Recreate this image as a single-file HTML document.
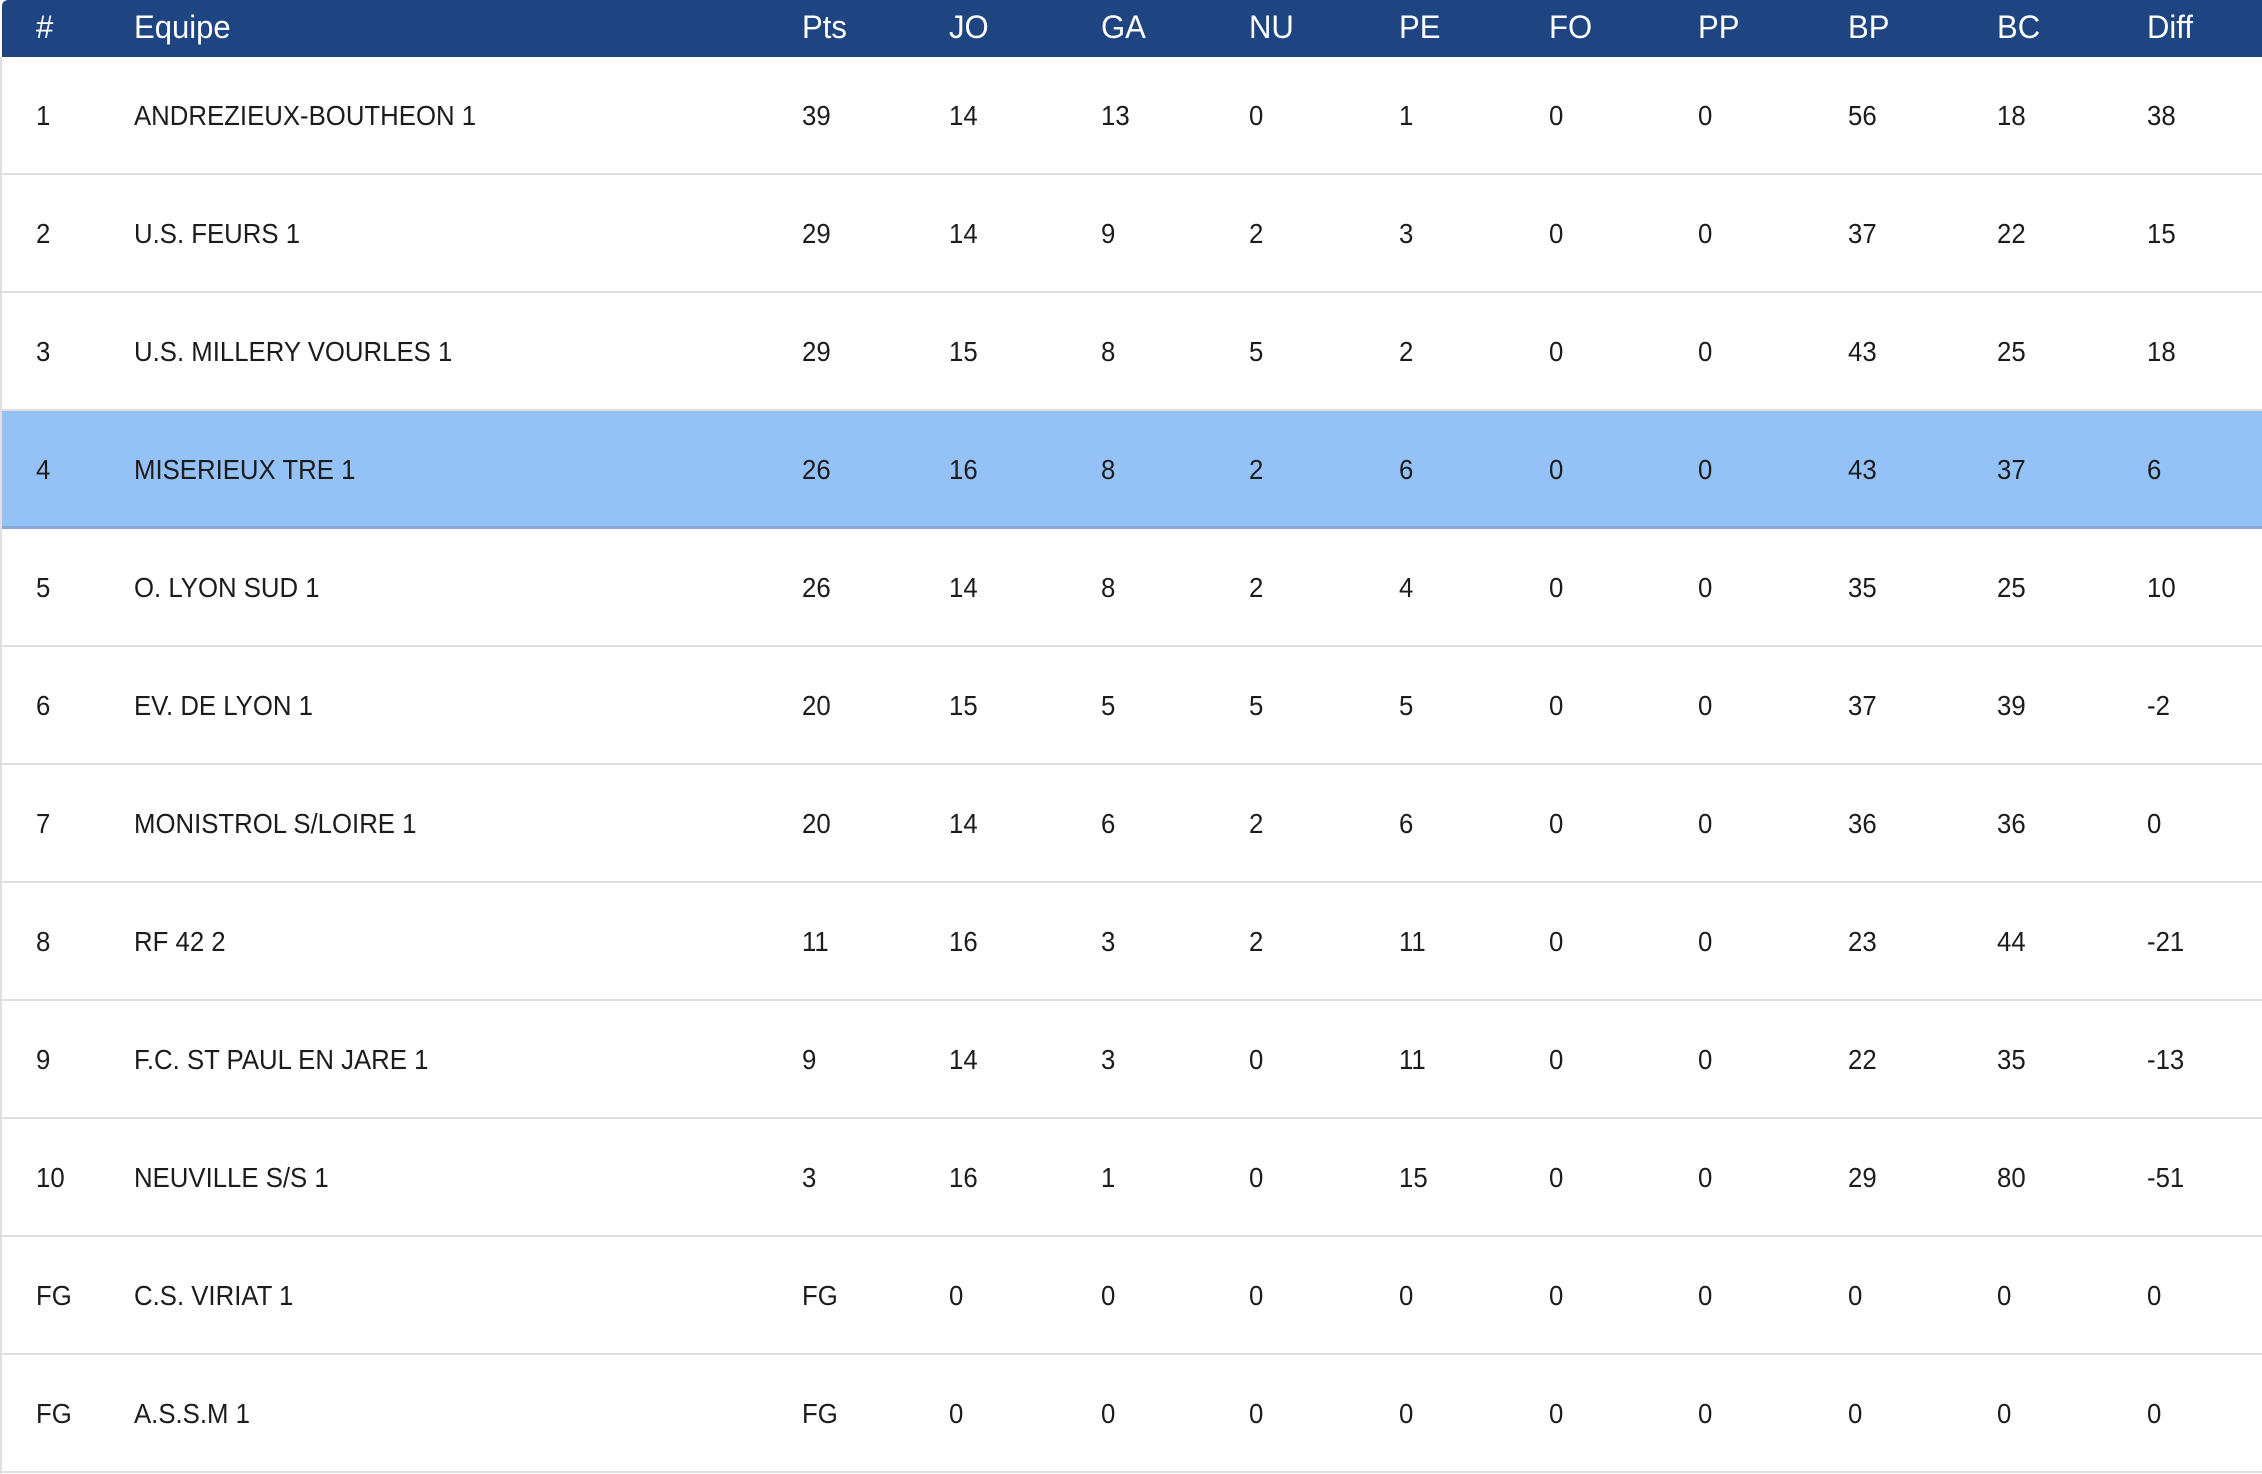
<!DOCTYPE html>
<html><head><meta charset="utf-8"><style>
html,body{margin:0;padding:0;width:2262px;height:1474px;background:#fff;overflow:hidden;font-family:"Liberation Sans",sans-serif;}
.hdr{position:absolute;left:2px;top:0;width:2260px;height:57px;background:#1e4481;border-top-left-radius:6px;}
.row{position:absolute;left:2px;width:2260px;height:118px;border-bottom:2px solid #e0e0e0;box-sizing:border-box;}
.hl{background:#94c2f7;border-bottom:3px solid #86aadb;}
.lb{position:absolute;left:0;top:57px;width:2px;height:1417px;background:#e0e0e0;}
.c{position:absolute;white-space:nowrap;transform:scaleX(0.92);transform-origin:left center;color:#1c1c1c;font-size:28px;line-height:30px;}
.h{color:#fff;font-size:32px;transform:scaleX(0.97);}
</style></head><body>
<div class="hdr"></div><div class="lb"></div>
<div id="t"></div>
<script>
var xs=[36,134,802,949,1101,1249,1399,1549,1698,1848,1997,2147];
var H=["#","Equipe","Pts","JO","GA","NU","PE","FO","PP","BP","BC","Diff"];
var R=[["1","ANDREZIEUX-BOUTHEON 1","39","14","13","0","1","0","0","56","18","38"],
["2","U.S. FEURS 1","29","14","9","2","3","0","0","37","22","15"],
["3","U.S. MILLERY VOURLES 1","29","15","8","5","2","0","0","43","25","18"],
["4","MISERIEUX TRE 1","26","16","8","2","6","0","0","43","37","6"],
["5","O. LYON SUD 1","26","14","8","2","4","0","0","35","25","10"],
["6","EV. DE LYON 1","20","15","5","5","5","0","0","37","39","-2"],
["7","MONISTROL S/LOIRE 1","20","14","6","2","6","0","0","36","36","0"],
["8","RF 42 2","11","16","3","2","11","0","0","23","44","-21"],
["9","F.C. ST PAUL EN JARE 1","9","14","3","0","11","0","0","22","35","-13"],
["10","NEUVILLE S/S 1","3","16","1","0","15","0","0","29","80","-51"],
["FG","C.S. VIRIAT 1","FG","0","0","0","0","0","0","0","0","0"],
["FG","A.S.S.M 1","FG","0","0","0","0","0","0","0","0","0"]];
var s="";
H.forEach(function(h,i){s+='<div class="c h" style="left:'+xs[i]+'px;top:12px">'+h+'</div>';});
R.forEach(function(r,j){var top=57+j*118;
s+='<div class="row'+(j==3?' hl':'')+'" style="top:'+top+'px"></div>';
r.forEach(function(v,i){s+='<div class="c" style="left:'+xs[i]+'px;top:'+(top+44)+'px">'+v+'</div>';});});
document.getElementById("t").innerHTML=s;
</script>
</body></html>
